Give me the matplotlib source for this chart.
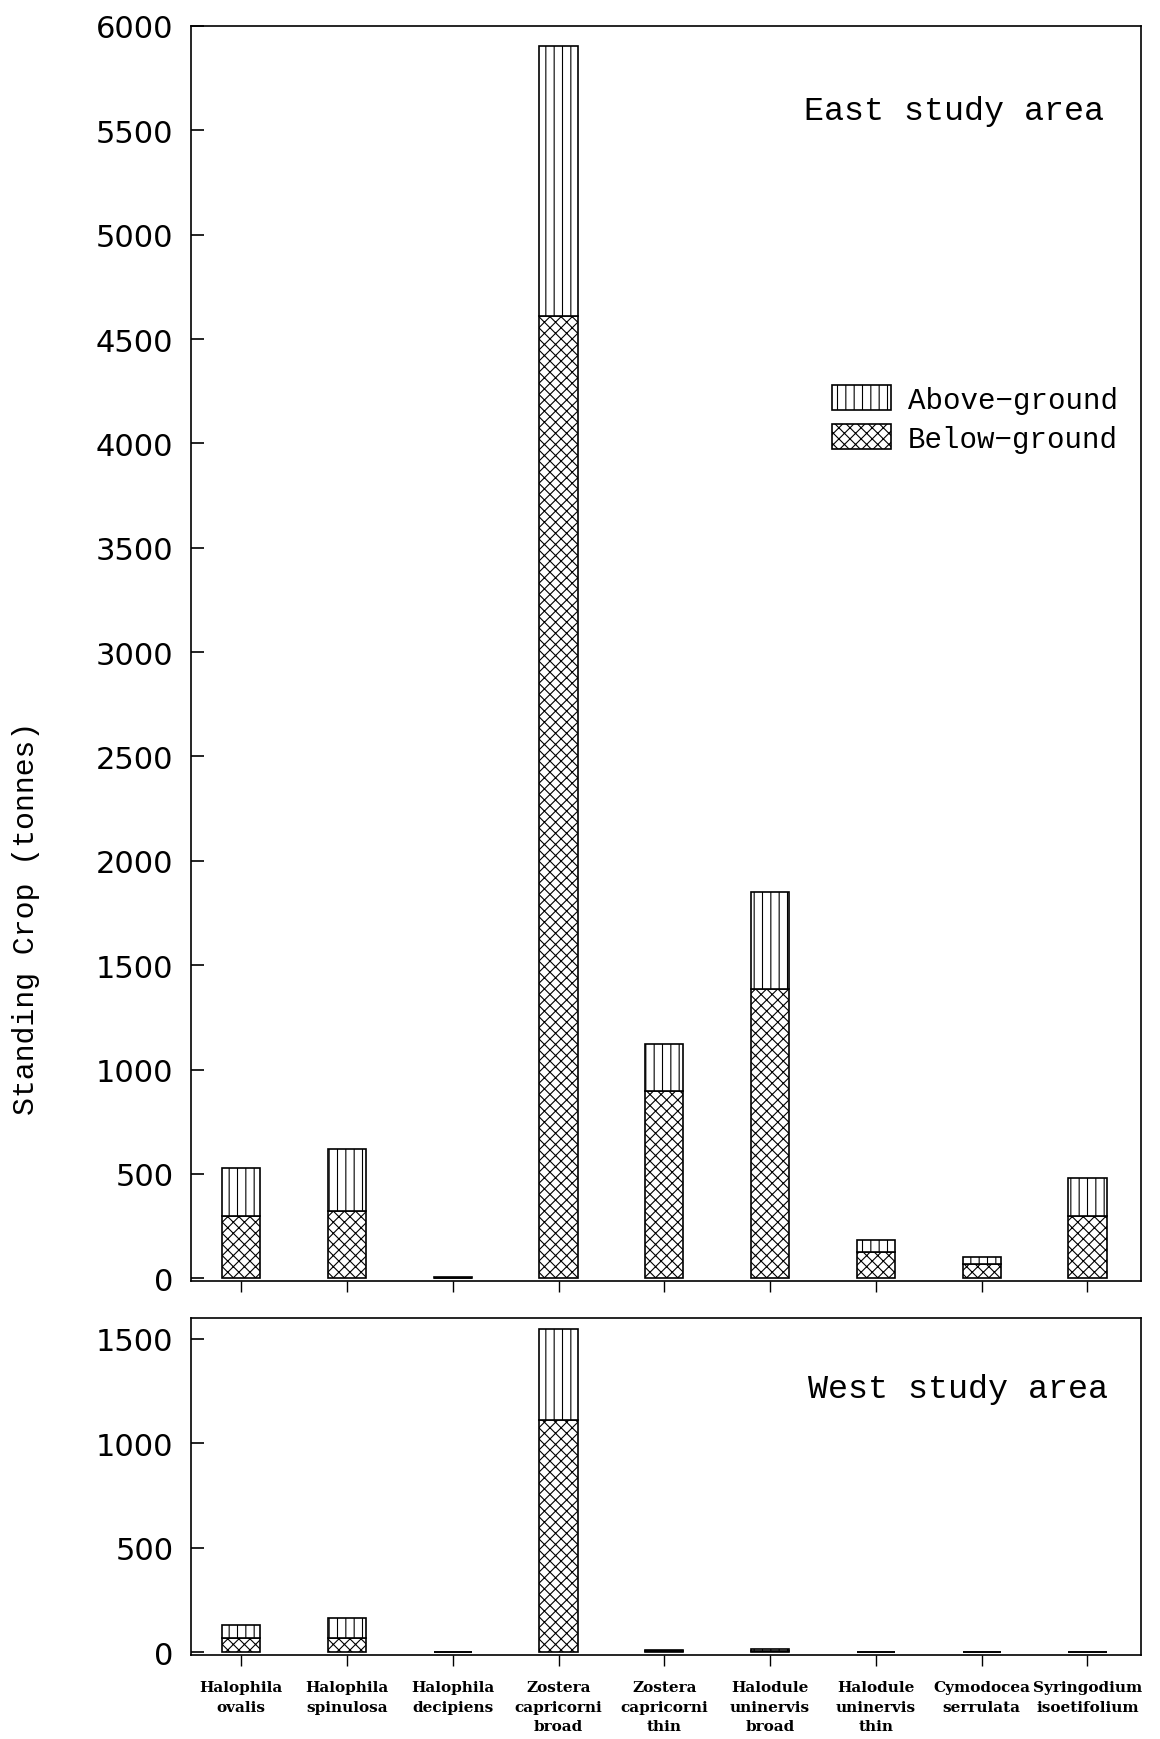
import matplotlib
matplotlib.use("Agg")
import matplotlib.pyplot as plt
from matplotlib.patches import Patch
import numpy as np

# ---- data (tonnes) ----
species = ["Halophila\novalis", "Halophila\nspinulosa", "Halophila\ndecipiens",
           "Zostera\ncapricorni\nbroad", "Zostera\ncapricorni\nthin",
           "Halodule\nuninervis\nbroad", "Halodule\nuninervis\nthin",
           "Cymodocea\nserrulata", "Syringodium\nisoetifolium"]

east_below = [298, 324, 3, 4612, 899, 1388, 125, 70, 300]
east_above = [229, 293, 2, 1292, 223, 463, 60, 30, 180]

west_below = [69, 69, 0, 1112, 5, 8, 0, 0, 0]
west_above = [64, 96, 0, 436, 7, 9, 0, 0, 0]

plt.rcParams["hatch.linewidth"] = 0.8
TICK_FONT = "DejaVu Sans"
TEXT_FONT = "Liberation Mono"
LABEL_FONT = "DejaVu Serif"

fig = plt.figure(figsize=(11.6, 17.4), dpi=100)
ax_e = fig.add_axes([0.165, 0.263, 0.819, 0.7215])
ax_w = fig.add_axes([0.165, 0.048, 0.819, 0.194])

x = np.arange(len(species))
W = 0.36

def _bars(ax, below, above):
    ax.bar(x, below, W, color="white", edgecolor="black", hatch="xxx", linewidth=1.2, zorder=2)
    ax.bar(x, above, W, bottom=below, color="white", edgecolor="black", hatch="||",
           linewidth=1.2, zorder=2)

def _style(ax, ylim, yticks):
    ax.set_xlim(-0.47, 8.51)
    ax.set_ylim(*ylim)
    ax.set_yticks(yticks)
    ax.set_xticks(x)
    ax.tick_params(axis="y", direction="in", length=9, width=1.2, pad=13, labelsize=22)
    ax.tick_params(axis="x", direction="out", length=8, width=1.0)
    for lab in ax.get_yticklabels():
        lab.set_fontfamily(TICK_FONT)
    for s in ax.spines.values():
        s.set_linewidth(1.2)

_bars(ax_e, east_below, east_above)
_style(ax_e, (-15, 6000), range(0, 6001, 500))
ax_e.set_xticklabels([])
ax_e.text(0.961, 0.933, "East study area", transform=ax_e.transAxes, ha="right", va="center",
          fontsize=24, family=TEXT_FONT)

handles = [Patch(facecolor="white", edgecolor="black", hatch="||", linewidth=1.2),
           Patch(facecolor="white", edgecolor="black", hatch="xxx", linewidth=1.2)]
ax_e.legend(handles, ["Above\u2212ground", "Below\u2212ground"], loc="center left",
            bbox_to_anchor=(0.647, 0.687), frameon=False, handlelength=2.0, handleheight=0.95,
            handletextpad=0.6, labelspacing=0.35, prop={"family": TEXT_FONT, "size": 21})

_bars(ax_w, west_below, west_above)
_style(ax_w, (-15, 1600), [0, 500, 1000, 1500])
ax_w.set_xticklabels(species, fontsize=11, fontweight="bold", family=LABEL_FONT,
                     va="top", linespacing=1.5)
ax_w.tick_params(axis="x", pad=10)
ax_w.text(0.965, 0.79, "West study area", transform=ax_w.transAxes, ha="right", va="center",
          fontsize=24, family=TEXT_FONT)

fig.text(0.022, 0.472, "Standing Crop (tonnes)", rotation=90, ha="center", va="center",
         fontsize=21.5, family=TEXT_FONT)

fig.savefig("out.png", dpi=100)
